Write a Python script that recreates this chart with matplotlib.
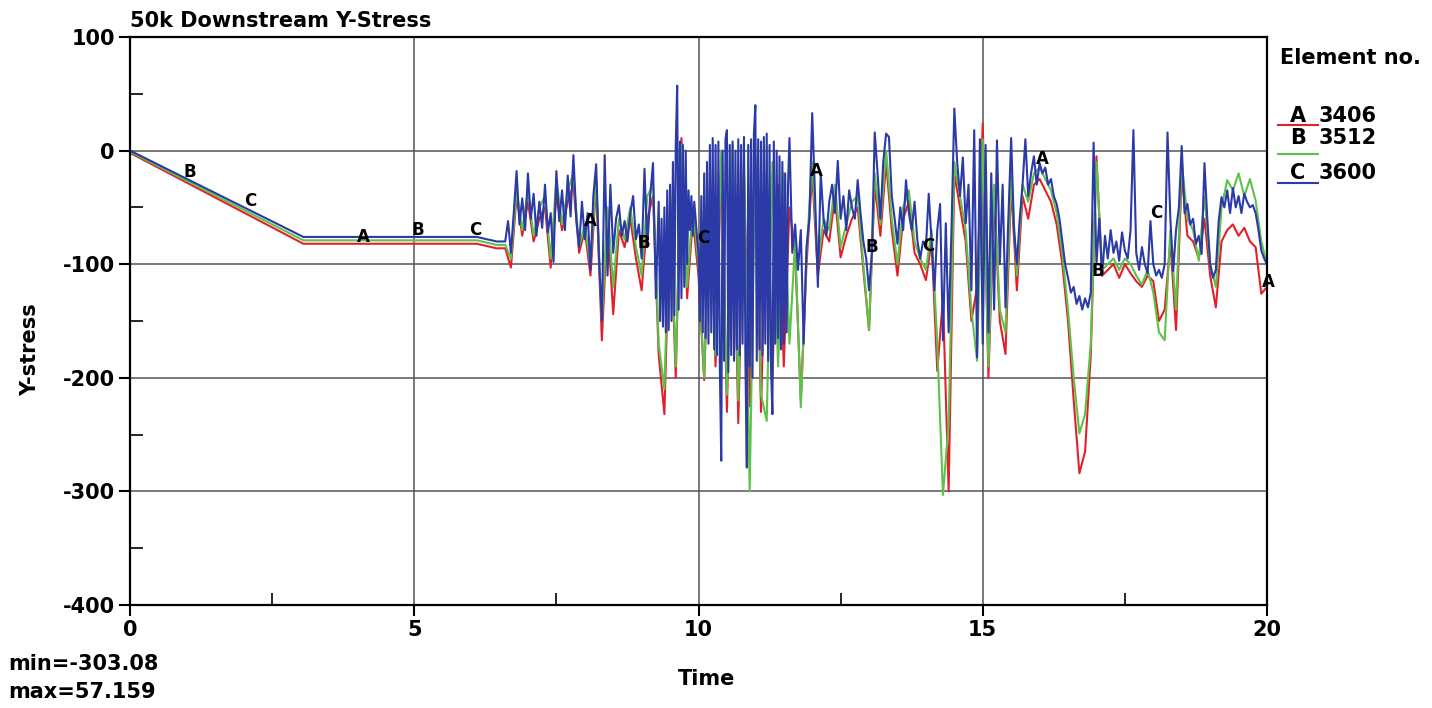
import matplotlib
matplotlib.use('Agg')
import matplotlib.pyplot as plt
from matplotlib.lines import Line2D
from matplotlib.ticker import MultipleLocator
import numpy as np

plt.rcParams['font.family'] = 'DejaVu Sans'
plt.rcParams['font.weight'] = 'bold'
plt.rcParams['axes.unicode_minus'] = False

# Loading ramp and hold (same knots for all three elements)
ramp_t = [0.0, 3.05, 6.1, 6.45, 6.55]
ramp_a = [-2, -82, -82, -86, -86]
ramp_b = [-1, -79, -79, -83, -83]
ramp_c = [0, -76, -76, -80, -80]

# Element 3600 during shaking: 0.05 s samples, finer 0.025 s record for the 9.3-11.6 s burst
c_early = [
    -80, -62, -90, -55, -18, -65, -42, -70,
    -20, -60, -38, -75, -45, -68, -30, -72, -55, -98, -18, -62, -35, -70, -22, -58, -4, -60, -85, -45,
    -78, -55, -105, -40, -12, -95, -150, -4, -110, -30, -90, -60, -48, -75, -62, -80, -55, -40, -78, -65,
    -95, -16, -85, -40, -11, -130,
]
c_burst = [
    -45, -150, -60, -155, -50, -160, -35, -158, -30, -150, -10, -145, 5, 57.159, -140, 8,
    -130, 5, -120, 0, -100, -35, -70, -40, -75, -45, -60, -77,
    -90, -150, -40, -160, -20, -165, -10, -170, 5, -160, 11, -175, 5, -180, 8, -190,
    -273, 0, -185, 10, 18, -195, 5, -180, 8, -185, 0, -175, 10, -180, 5, -170,
    12, -185, -279, 5, -190, 10, -200, 15,
    40, -185, 10, -175, 8, -180, 12, -170, 15, -185, 5, -190, -232, 8, -170, 0,
    -165, -5, -175, -10, -170, -20, -160, -30, 11,
]
c_late = [
    -90, -65, -105, -70, -170, -85, -60,
    33, -40, -120, -20, -60, -75, -45, -30, -55, -9, -60, -40, -70, -35, -50, -60, -26, -55, -80, -95,
    -123, -90, 16, -20, -60, -10, 15, 12, -40, -60, -82, -50, -70, -26, -55, -70, -45, -79, -95, -80,
    -85, -38, -80, -123, -70, -47, -167, -64, -160, -70, 37, -10, -40, -6, -64, -30, -123, 18, -182, 10,
    -170, 5, -160, -20, -140, 9, -100, -30, -138, -60, 11, -70, -100, -60, -30, 10, -40, -20, -5, -30,
    -11, -20, -15, -30, -25, -40, -47, -60, -80, -100, -112, -125, -120, -135, -128, -140, -130, -138, -125, 7,
    -100, -60, -110, -75, -95, -70, -90, -80, -97, -72, -88, -95, -70, 18, -90, -105, -85, -100, -108, -62,
    -100, -110, -105, -112, -100, 16, -60, -106, -70, -50, 4, -55, -47, -65, -60, -82, -75, -91, -11, -60,
    -100, -112, -105, -62, -41, -50, -35, -55, -33, -50, -40, -55, -38, -45, -50, -48, -55, -70, -88, -95,
    -100,
]

# Elements 3406 and 3512 sampled every 0.1 s from t=6.6
stress_a = [
    -86, -103, -40, -75,
    -45, -80, -60, -50, -103, -40, -70, -45, -30, -90,
    -70, -110, -30, -167, -60, -144, -70, -85, -60, -95,
    -123, -60, -40, -180, -232, -50, -200, 11, -130, -60,
    -110, -202, -40, -190, -10, -230, 0, -240, -20, -225,
    -10, -230, -20, -200, -30, -190, -50, -90, -220, -100,
    -20, -110, -70, -80, -40, -94, -75, -60, -50, -105,
    -158, -30, -75, -10, -70, -110, -60, -45, -90, -100,
    -114, -80, -194, -130, -300, -20, -50, -80, -150, -120,
    24, -200, -40, -150, -179, -30, -123, -40, -60, -30,
    -25, -35, -45, -65, -100, -150, -220, -284, -265, -180,
    -5, -110, -105, -100, -112, -100, -108, -115, -120, -110,
    -115, -150, -140, -80, -158, -20, -75, -80, -95, -60,
    -110, -138, -80, -70, -65, -75, -68, -80, -85, -126,
    -120,
]
stress_b = [
    -83, -95, -35, -70,
    -35, -75, -50, -40, -95, -25, -65, -35, -20, -85,
    -65, -100, -25, -150, -50, -120, -60, -78, -50, -85,
    -110, -40, -30, -170, -210, -40, -190, 5, -120, -50,
    -100, -200, -30, -180, 0, -215, 5, -220, -10, -300,
    -5, -215, -238, -10, -190, -20, -170, -80, -226, -90,
    -10, -100, -60, -70, -30, -85, -65, -45, -40, -100,
    -158, -20, -65, 0, -60, -100, -50, -35, -80, -95,
    -105, -70, -170, -303.08, -240, -10, -40, -70, -140, -185,
    10, -190, -30, -140, -160, -20, -110, -30, -45, -20,
    -15, -25, -35, -55, -90, -140, -200, -249, -232, -170,
    -10, -105, -100, -95, -105, -95, -100, -110, -118, -105,
    -125, -160, -167, -70, -140, -10, -60, -70, -97, -40,
    -100, -120, -50, -26, -35, -20, -40, -25, -44, -80,
    -100,
]

# (start time, sample step, values) for each element's shaking record
segments_a = [(6.6, 0.1, stress_a)]
segments_b = [(6.6, 0.1, stress_b)]
segments_c = [(6.6, 0.05, c_early), (9.3, 0.025, c_burst), (11.65, 0.05, c_late)]

elements = ['3406', '3512', '3600']
letters = ['A', 'B', 'C']
colors = ['#e3202a', '#5cc24a', '#2b3aa6']

# Curve identification letters along the traces
tag_letters = ['B', 'C', 'A', 'B', 'C', 'A', 'B', 'C', 'A', 'B', 'C', 'A', 'B', 'C', 'A']
tag_t = [1.06, 2.11, 4.1, 5.07, 6.07, 8.09, 9.04, 10.08, 12.08, 13.05, 14.05, 16.04, 17.03, 18.05, 20.02]
tag_y = [-19, -44, -76, -70, -70, -62, -81, -77, -18, -85, -84, -7, -106, -55, -116]


def build_series(ramp, segments):
    t = list(ramp_t)
    y = list(ramp)
    for start, dt, vals in segments:
        t += list(start + dt * np.arange(len(vals)))
        y += list(vals)
    return np.array(t), np.array(y)


W, H = 1432, 708
fig = plt.figure(figsize=(W / 100, H / 100), dpi=100)
ax = fig.add_axes([130 / W, 1 - 605 / H, 1137 / W, 568 / H])

all_vals = []
for ramp, segs, c in zip([ramp_a, ramp_b, ramp_c], [segments_a, segments_b, segments_c], colors):
    t, y = build_series(ramp, segs)
    ax.plot(t, y, color=c, lw=1.5)
    all_vals.append(y)
all_vals = np.concatenate(all_vals)

for s, tx, ty in zip(tag_letters, tag_t, tag_y):
    ax.text(tx, ty, s, fontsize=12, fontweight='bold', ha='center', va='center',
            clip_on=False, zorder=5)

ax.set_xlim(0, 20)
ax.set_ylim(-400, 100)
ax.xaxis.set_major_locator(MultipleLocator(5))
ax.xaxis.set_minor_locator(MultipleLocator(2.5))
ax.yaxis.set_major_locator(MultipleLocator(100))
ax.yaxis.set_minor_locator(MultipleLocator(50))
ax.tick_params(which='major', direction='out', length=8, width=1.5, labelsize=15, pad=3)
ax.tick_params(which='minor', direction='in', length=9, width=1.2)
ax.grid(True, which='major', color='#555555', lw=1.1)
for sp in ax.spines.values():
    sp.set_linewidth(1.6)
    sp.set_color('black')

ax.set_title('50k Downstream Y-Stress', loc='left', fontsize=15, fontweight='bold', pad=7)
ax.set_ylabel('Y-stress', fontsize=15, fontweight='bold')
ax.yaxis.set_label_coords(-0.079, 0.45)
ax.set_xlabel('Time', fontsize=15, fontweight='bold')
ax.xaxis.set_label_coords(0.5075, -0.112)

# Legend block on the right
fig.text(1280 / W, 1 - 58 / H, 'Element no.', fontsize=15, fontweight='bold', va='center')
text_y = [116, 138, 173]
line_y = [125, 154, 183]
for s, num, c, ty, ly in zip(letters, elements, colors, text_y, line_y):
    fig.text(1290 / W, 1 - ty / H, s, fontsize=15, fontweight='bold', va='center')
    fig.text(1319 / W, 1 - ty / H, num, fontsize=15, fontweight='bold', va='center')
    fig.add_artist(Line2D([1278 / W, 1318 / W], [1 - ly / H] * 2,
                          transform=fig.transFigure, color=c, lw=1.5))

fig.text(8 / W, 1 - 664 / H, f'min={all_vals.min():.2f}', fontsize=15, fontweight='bold', va='center')
fig.text(8 / W, 1 - 692 / H, f'max={all_vals.max():.3f}', fontsize=15, fontweight='bold', va='center')

fig.savefig('out.png', dpi=100)
